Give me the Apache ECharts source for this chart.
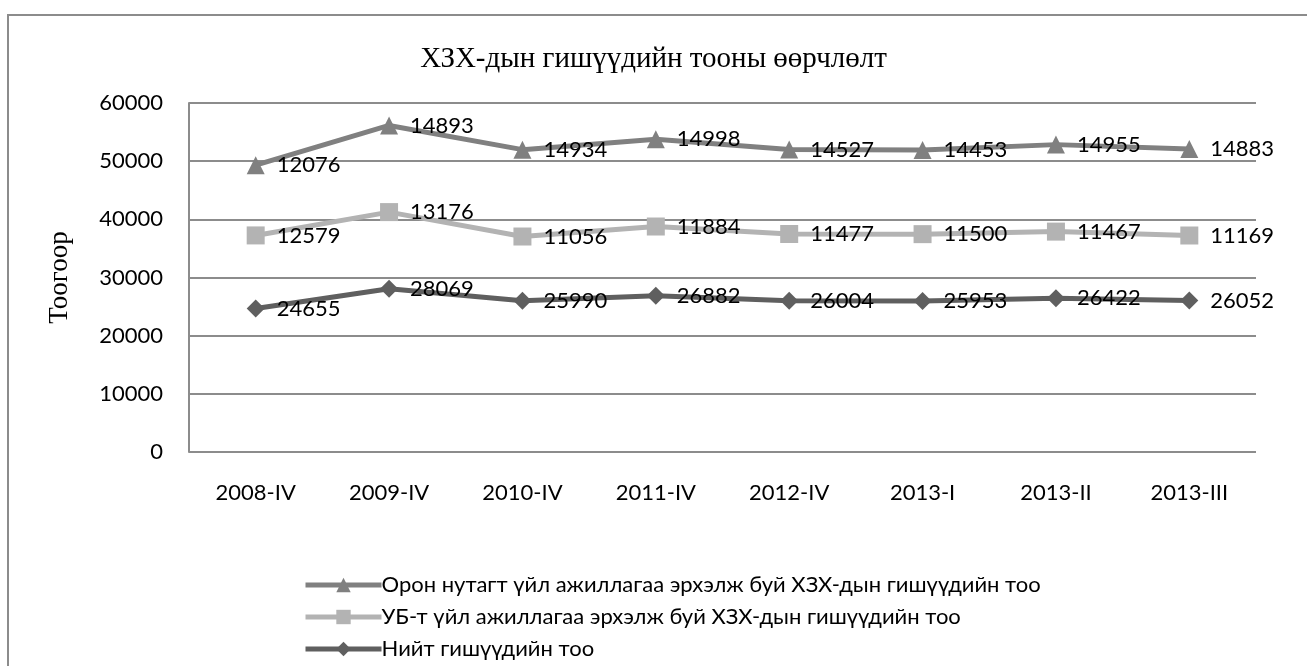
<!DOCTYPE html>
<html>
<head>
<meta charset="utf-8">
<script src="https://cdn.jsdelivr.net/npm/echarts@6/dist/echarts.min.js"></script>
<style>
  html, body { margin: 0; padding: 0; background: #fff; }
  #chart { width: 1307px; height: 666px; }
</style>
</head>
<body>
<div id="chart"></div>
<script>
// quarters on the x axis
var categories = ['2008-IV', '2009-IV', '2010-IV', '2011-IV', '2012-IV', '2013-I', '2013-II', '2013-III']
// series values (drawn stacked, labels show own values)
var totalMembers = [24655, 28069, 25990, 26882, 26004, 25953, 26422, 26052]
var ubMembers = [12579, 13176, 11056, 11884, 11477, 11500, 11467, 11169]
var ruralMembers = [12076, 14893, 14934, 14998, 14527, 14453, 14955, 14883]

var nameRural = 'Орон нутагт үйл ажиллагаа эрхэлж буй ХЗХ-дын гишүүдийн тоо'
var nameUb = 'УБ-т үйл ажиллагаа эрхэлж буй ХЗХ-дын гишүүдийн тоо'
var nameTotal = 'Нийт гишүүдийн тоо'

var font = 'Lato, "Open Sans", sans-serif'
var serif = '"Liberation Serif", serif'

function makeSeries(name, data, color, symbol, size) {
  return {
    name: name,
    type: 'line',
    stack: 'all',
    data: data,
    symbol: symbol,
    symbolSize: size,
    showSymbol: true,
    lineStyle: { color: color, width: 5 },
    itemStyle: { color: color },
    label: {
      show: true,
      position: 'right',
      distance: 12,
      color: '#000',
      fontSize: 22,
      fontFamily: font
    },
    animation: false
  }
}

var chart = echarts.init(document.getElementById('chart'))
chart.setOption({
  backgroundColor: '#fff',
  title: {
    text: 'ХЗХ-дын гишүүдийн тооны өөрчлөлт',
    left: 'center',
    top: 40,
    textStyle: {
      fontFamily: serif,
      fontWeight: 'normal',
      fontSize: 29,
      color: '#000'
    }
  },
  graphic: [{
    type: 'rect',
    shape: { x: 8, y: 15, width: 1400, height: 800 },
    style: { fill: 'none', stroke: '#8c8c8c', lineWidth: 2 },
    silent: true
  }],
  legend: {
    orient: 'vertical',
    left: 298,
    top: 569,
    itemGap: 10,
    itemWidth: 76,
    itemHeight: 18,
    data: [nameRural, nameUb, nameTotal],
    lineStyle: { width: 5 },
    textStyle: { fontFamily: font, fontSize: 22, color: '#000', padding: [0, 0, 0, -5] }
  },
  grid: { left: 189, right: 51, top: 103, bottom: 214 },
  xAxis: {
    type: 'category',
    data: categories,
    boundaryGap: true,
    axisLine: { show: false },
    axisTick: { show: false },
    axisLabel: { color: '#000', fontSize: 22, fontFamily: font, margin: 30 }
  },
  yAxis: {
    type: 'value',
    min: 0,
    max: 60000,
    interval: 10000,
    name: 'Тоогоор',
    nameLocation: 'middle',
    nameRotate: 90,
    nameGap: 116,
    nameTextStyle: { fontFamily: serif, fontSize: 27, color: '#000' },
    axisLine: { show: true, lineStyle: { color: '#8c8c8c', width: 2 } },
    axisTick: { show: false },
    axisLabel: {
      color: '#000', fontSize: 22, fontFamily: font, margin: 26,
      formatter: function (v) { return String(v) }
    },
    splitLine: { lineStyle: { color: '#8c8c8c', width: 2 } }
  },
  series: [
    makeSeries(nameTotal, totalMembers, '#5f5f5f', 'diamond', 18),
    makeSeries(nameUb, ubMembers, '#b3b3b3', 'rect', 18),
    makeSeries(nameRural, ruralMembers, '#808080', 'triangle', 18)
  ]
})
</script>
</body>
</html>
